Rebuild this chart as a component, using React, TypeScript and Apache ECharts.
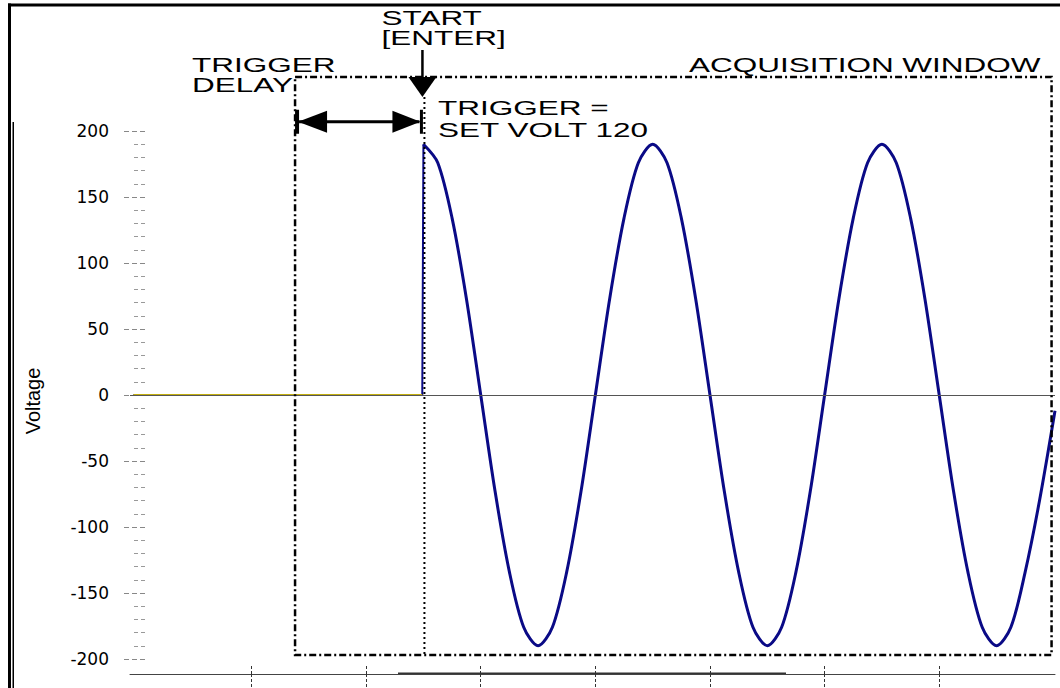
import React, { useEffect, useRef } from 'react';
import * as echarts from 'echarts';

// x-axis: time units (one tick interval = half a mains cycle)
const X_MIN = -0.6;
const X_MAX = 80.1;
const X_TICKS = [10, 20, 30, 40, 50, 60, 70];

// y-axis
const Y_MIN = -200;
const Y_MAX = 200;
const Y_STEP = 50;

// signal before the trigger (0 V)
const PRE_TIME = [-0.3, 24.9];
const PRE_VOLT = [0, 0];

// signal after the trigger
const WAVE_TIME = [
  25, 26.25, 27.5, 28.75, 30, 31.25, 32.5, 33.75, 35, 36.25, 37.5, 38.75,
  40, 41.25, 42.5, 43.75, 45, 46.25, 47.5, 48.75, 50, 51.25, 52.5, 53.75,
  55, 56.25, 57.5, 58.75, 60, 61.25, 62.5, 63.75, 65, 66.25, 67.5, 68.75,
  70, 71.25, 72.5, 73.75, 75, 76.25, 77.5, 78.75, 80.1,
];
const WAVE_VOLT = [
  190, 176, 134, 73, 0, -73, -134, -176, -190, -176, -134, -73,
  0, 73, 134, 176, 190, 176, 134, 73, 0, -73, -134, -176,
  -190, -176, -134, -73, 0, 73, 134, 176, 190, 176, 134, 73,
  0, -73, -134, -176, -190, -176, -134, -80, -12,
];

// annotation anchors (data units)
const TRIGGER_TIME = 25;
const WINDOW_START = 13.8;
const WINDOW_END = 79.8;
const WINDOW_TOP = 241;
const WINDOW_BOTTOM = -197;
const DELAY_ARROW_VOLT = 207;

const LABELS = {
  delay: 'TRIGGER\nDELAY',
  start: 'START\n[ENTER]',
  trigger: 'TRIGGER =\nSET VOLT 120',
  window: 'ACQUISITION WINDOW',
  yName: 'Voltage',
};

const NAVY = '#0a0a86';
const ANN_FONT = '21px "Liberation Sans", Arial, sans-serif';
const ANN_SCALE = 1.5;

export default function App() {
  const ref = useRef<HTMLDivElement>(null);

  useEffect(() => {
    if (!ref.current) return;
    const chart = echarts.init(ref.current, null, { renderer: 'svg' });

    const prePairs = PRE_TIME.map((t, i) => [t, PRE_VOLT[i]]);
    const jumpPairs = [...prePairs, [WAVE_TIME[0], WAVE_VOLT[0]]];
    const wavePairs = WAVE_TIME.map((t, i) => [t, WAVE_VOLT[i]]);

    const tickStyle = { color: '#333', width: 1, type: [3, 2] as any };

    chart.setOption({
      animation: false,
      backgroundColor: '#ffffff',
      grid: {
        left: 130,
        right: 5,
        top: 131,
        bottom: 29,
        containLabel: false,
        outerBoundsMode: 'none',
      },
      xAxis: [
        {
          type: 'value',
          min: X_MIN,
          max: X_MAX,
          position: 'bottom',
          offset: 15,
          axisLine: { show: true, onZero: false, lineStyle: { color: '#444', width: 1 } },
          axisTick: { show: true, customValues: X_TICKS, length: 14, lineStyle: tickStyle },
          axisLabel: { show: false },
          splitLine: { show: false },
        },
        {
          type: 'value',
          min: X_MIN,
          max: X_MAX,
          position: 'bottom',
          offset: 15,
          axisLine: { show: false, onZero: false },
          axisTick: { show: true, inside: true, customValues: X_TICKS, length: 10, lineStyle: tickStyle },
          axisLabel: { show: false },
          splitLine: { show: false },
        },
      ],
      yAxis: {
        type: 'value',
        min: Y_MIN,
        max: Y_MAX,
        interval: Y_STEP,
        offset: -15,
        name: LABELS.yName,
        nameLocation: 'middle',
        nameRotate: 90,
        nameGap: 102,
        nameTextStyle: {
          fontFamily: '"Liberation Sans", Arial, sans-serif',
          fontSize: 20,
          color: '#000',
          padding: [0, 12, 0, 0],
        },
        axisLine: { show: false, onZero: false },
        axisTick: { show: true, length: 22, lineStyle: { color: '#888', width: 1, type: [5, 3] } },
        minorTick: { show: true, splitNumber: 5, length: 11, lineStyle: { color: '#999', width: 1, type: [4, 3] } },
        axisLabel: {
          margin: 36,
          fontFamily: '"DejaVu Sans", sans-serif',
          fontSize: 17,
          color: '#000',
        },
        splitLine: { show: false },
        minorSplitLine: { show: false },
      },
      series: [
        {
          type: 'line',
          name: 'Signal (pre-trigger)',
          data: jumpPairs,
          showSymbol: false,
          symbol: 'none',
          lineStyle: { color: NAVY, width: 2 },
          z: 2,
          markLine: {
            silent: true,
            symbol: ['none', 'none'],
            label: { show: false },
            lineStyle: { color: '#555', width: 1, type: 'solid' },
            data: [{ yAxis: 0 }],
          },
        },
        {
          type: 'line',
          name: 'Reference',
          data: prePairs,
          showSymbol: false,
          symbol: 'none',
          lineStyle: { color: '#c2ae10', width: 2 },
          z: 4,
        },
        {
          type: 'line',
          name: 'Voltage',
          data: wavePairs,
          smooth: 0.3,
          showSymbol: false,
          symbol: 'none',
          lineStyle: { color: NAVY, width: 3 },
          z: 3,
        },
      ],
    });

    const px = (x: number, y: number) =>
      chart.convertToPixel({ gridIndex: 0 }, [x, y]) as number[];
    const [wx0, wyTop] = px(WINDOW_START, WINDOW_TOP);
    const [wx1, wyBot] = px(WINDOW_END, WINDOW_BOTTOM);
    const [tx] = px(TRIGGER_TIME, 0);
    const [, ay] = px(0, DELAY_ARROW_VOLT);

    const txt = (x: number, y: number, text: string, lineHeight: number) => ({
      type: 'text',
      x,
      y,
      scaleX: ANN_SCALE,
      z: 10,
      style: {
        text,
        font: ANN_FONT,
        fill: '#000',
        lineHeight,
        align: 'left',
        verticalAlign: 'top',
        textAlign: 'left',
        textVerticalAlign: 'top',
      },
    });

    chart.setOption({
      graphic: [
        // outer frame (top + left) as filled bars
        { type: 'rect', z: 10, shape: { x: 8, y: 3.5, width: 1052, height: 3 }, style: { fill: '#000' } },
        { type: 'rect', z: 10, shape: { x: 8, y: 3.5, width: 3, height: 685 }, style: { fill: '#000' } },
        { type: 'rect', z: 10, shape: { x: 12.5, y: 122, width: 1.5, height: 566 }, style: { fill: '#000' } },
        // darker segment on the time axis
        { type: 'line', shape: { x1: 398, y1: 673.5, x2: 786, y2: 673.5 }, style: { stroke: '#333', lineWidth: 2 } },
        // acquisition window
        {
          type: 'polyline',
          z: 8,
          shape: { points: [[wx0, wyTop], [wx1, wyTop], [wx1, wyBot], [wx0, wyBot], [wx0, wyTop]] },
          style: { stroke: '#000', lineWidth: 2.5, lineDash: [7, 3, 2, 3], fill: null },
        },
        // trigger line
        {
          type: 'line',
          z: 8,
          shape: { x1: tx + 1, y1: wyTop + 20, x2: tx + 1, y2: wyBot },
          style: { stroke: '#000', lineWidth: 2, lineDash: [2, 3] },
        },
        // START arrow
        { type: 'line', z: 9, shape: { x1: tx - 1, y1: 50, x2: tx - 1, y2: wyTop + 1 }, style: { stroke: '#000', lineWidth: 2.5 } },
        {
          type: 'polygon',
          z: 9,
          shape: { points: [[tx - 15, wyTop], [tx + 13, wyTop], [tx - 1, wyTop + 20]] },
          style: { fill: '#000' },
        },
        // trigger delay arrow
        { type: 'line', z: 9, shape: { x1: wx0 + 4, y1: ay, x2: tx - 4, y2: ay }, style: { stroke: '#000', lineWidth: 3 } },
        {
          type: 'polygon',
          z: 9,
          shape: { points: [[wx0 + 3, ay], [wx0 + 32, ay - 11], [wx0 + 32, ay + 11]] },
          style: { fill: '#000' },
        },
        {
          type: 'polygon',
          z: 9,
          shape: { points: [[tx - 3, ay], [tx - 31, ay - 11], [tx - 31, ay + 11]] },
          style: { fill: '#000' },
        },
        { type: 'line', z: 9, shape: { x1: wx0 + 2, y1: ay - 12, x2: wx0 + 2, y2: ay + 12 }, style: { stroke: '#000', lineWidth: 4 } },
        { type: 'line', z: 9, shape: { x1: tx - 2, y1: ay - 12, x2: tx - 2, y2: ay + 12 }, style: { stroke: '#000', lineWidth: 3 } },
        // texts
        txt(192, 55, LABELS.delay, 20),
        txt(381.5, 7.4, LABELS.start, 20.5),
        txt(438, 97.4, LABELS.trigger, 21.5),
        txt(689, 54, LABELS.window, 21),
      ],
    });

    return () => chart.dispose();
  }, []);

  return (
    <div
      ref={ref}
      style={{ position: 'absolute', left: 0, top: 0, width: 1060, height: 688 }}
    />
  );
}
